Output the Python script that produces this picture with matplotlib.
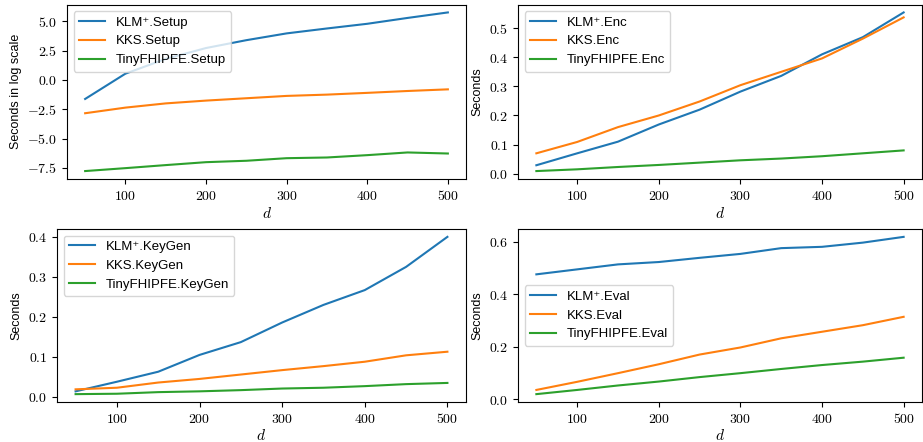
import matplotlib
matplotlib.use("Agg")
import matplotlib.pyplot as plt
from matplotlib.ticker import FormatStrFormatter

plt.rcParams.update({
    "font.family": ["Liberation Sans", "DejaVu Sans"],
    "mathtext.fontset": "cm",
    "font.size": 9,
    "xtick.labelsize": 10,
    "ytick.labelsize": 10,
    "legend.fontsize": 9.5,
    "axes.labelsize": 9,
})

d = [50, 100, 150, 200, 250, 300, 350, 400, 450, 500]

# Setup (log scale)
klm_setup = [-1.62, 0.54, 1.8, 2.73, 3.4, 3.98, 4.4, 4.8, 5.3, 5.77]
kks_setup = [-2.84, -2.36, -2.0, -1.76, -1.56, -1.36, -1.25, -1.1, -0.94, -0.8]
tiny_setup = [-7.78, -7.53, -7.27, -7.02, -6.9, -6.68, -6.62, -6.42, -6.19, -6.28]

# Enc
klm_enc = [0.029, 0.07, 0.11, 0.169, 0.22, 0.282, 0.336, 0.41, 0.469, 0.554]
kks_enc = [0.07, 0.109, 0.16, 0.2, 0.248, 0.304, 0.35, 0.396, 0.464, 0.537]
tiny_enc = [0.009, 0.015, 0.023, 0.03, 0.038, 0.046, 0.052, 0.06, 0.07, 0.08]

# KeyGen
klm_keygen = [0.014, 0.038, 0.063, 0.105, 0.137, 0.186, 0.23, 0.267, 0.325, 0.4]
kks_keygen = [0.019, 0.023, 0.036, 0.045, 0.056, 0.067, 0.077, 0.088, 0.104, 0.113]
tiny_keygen = [0.007, 0.008, 0.012, 0.014, 0.017, 0.021, 0.023, 0.027, 0.032, 0.035]

# Eval
klm_eval = [0.476, 0.495, 0.514, 0.523, 0.539, 0.554, 0.576, 0.581, 0.597, 0.619]
kks_eval = [0.035, 0.066, 0.099, 0.133, 0.17, 0.197, 0.232, 0.257, 0.282, 0.314]
tiny_eval = [0.019, 0.035, 0.052, 0.067, 0.084, 0.099, 0.115, 0.13, 0.143, 0.158]

schemes = ["KLM\u207a", "KKS", "TinyFHIPFE"]

W, H = 923, 442
# axes boxes in pixels: left, top, right, bottom
boxes = [(67, 4.5, 466, 179), (518, 4.5, 922, 179),
         (57, 229, 466, 402), (518, 229, 922, 402)]

panels = [
    ("Setup", [klm_setup, kks_setup, tiny_setup], "Seconds in log scale", "upper left"),
    ("Enc", [klm_enc, kks_enc, tiny_enc], "Seconds", "upper left"),
    ("KeyGen", [klm_keygen, kks_keygen, tiny_keygen], "Seconds", "upper left"),
    ("Eval", [klm_eval, kks_eval, tiny_eval], "Seconds", "center left"),
]

fig = plt.figure(figsize=(W / 100, H / 100), dpi=100)

for (l, t, r, b), (op, series, ylabel, loc) in zip(boxes, panels):
    ax = fig.add_axes([l / W, 1 - b / H, (r - l) / W, (b - t) / H])
    for name, vals in zip(schemes, series):
        ax.plot(d, vals, label=name + "." + op, linewidth=1.5)
    ax.set_xlabel("$d$", fontsize=11, labelpad=2)
    ax.set_ylabel(ylabel)
    ax.set_xticks([100, 200, 300, 400, 500])
    ax.xaxis.set_major_formatter(FormatStrFormatter("$%d$"))
    ax.yaxis.set_major_formatter(FormatStrFormatter("$%.1f$"))
    ax.legend(loc=loc)

plt.savefig("out.png", dpi=100)
